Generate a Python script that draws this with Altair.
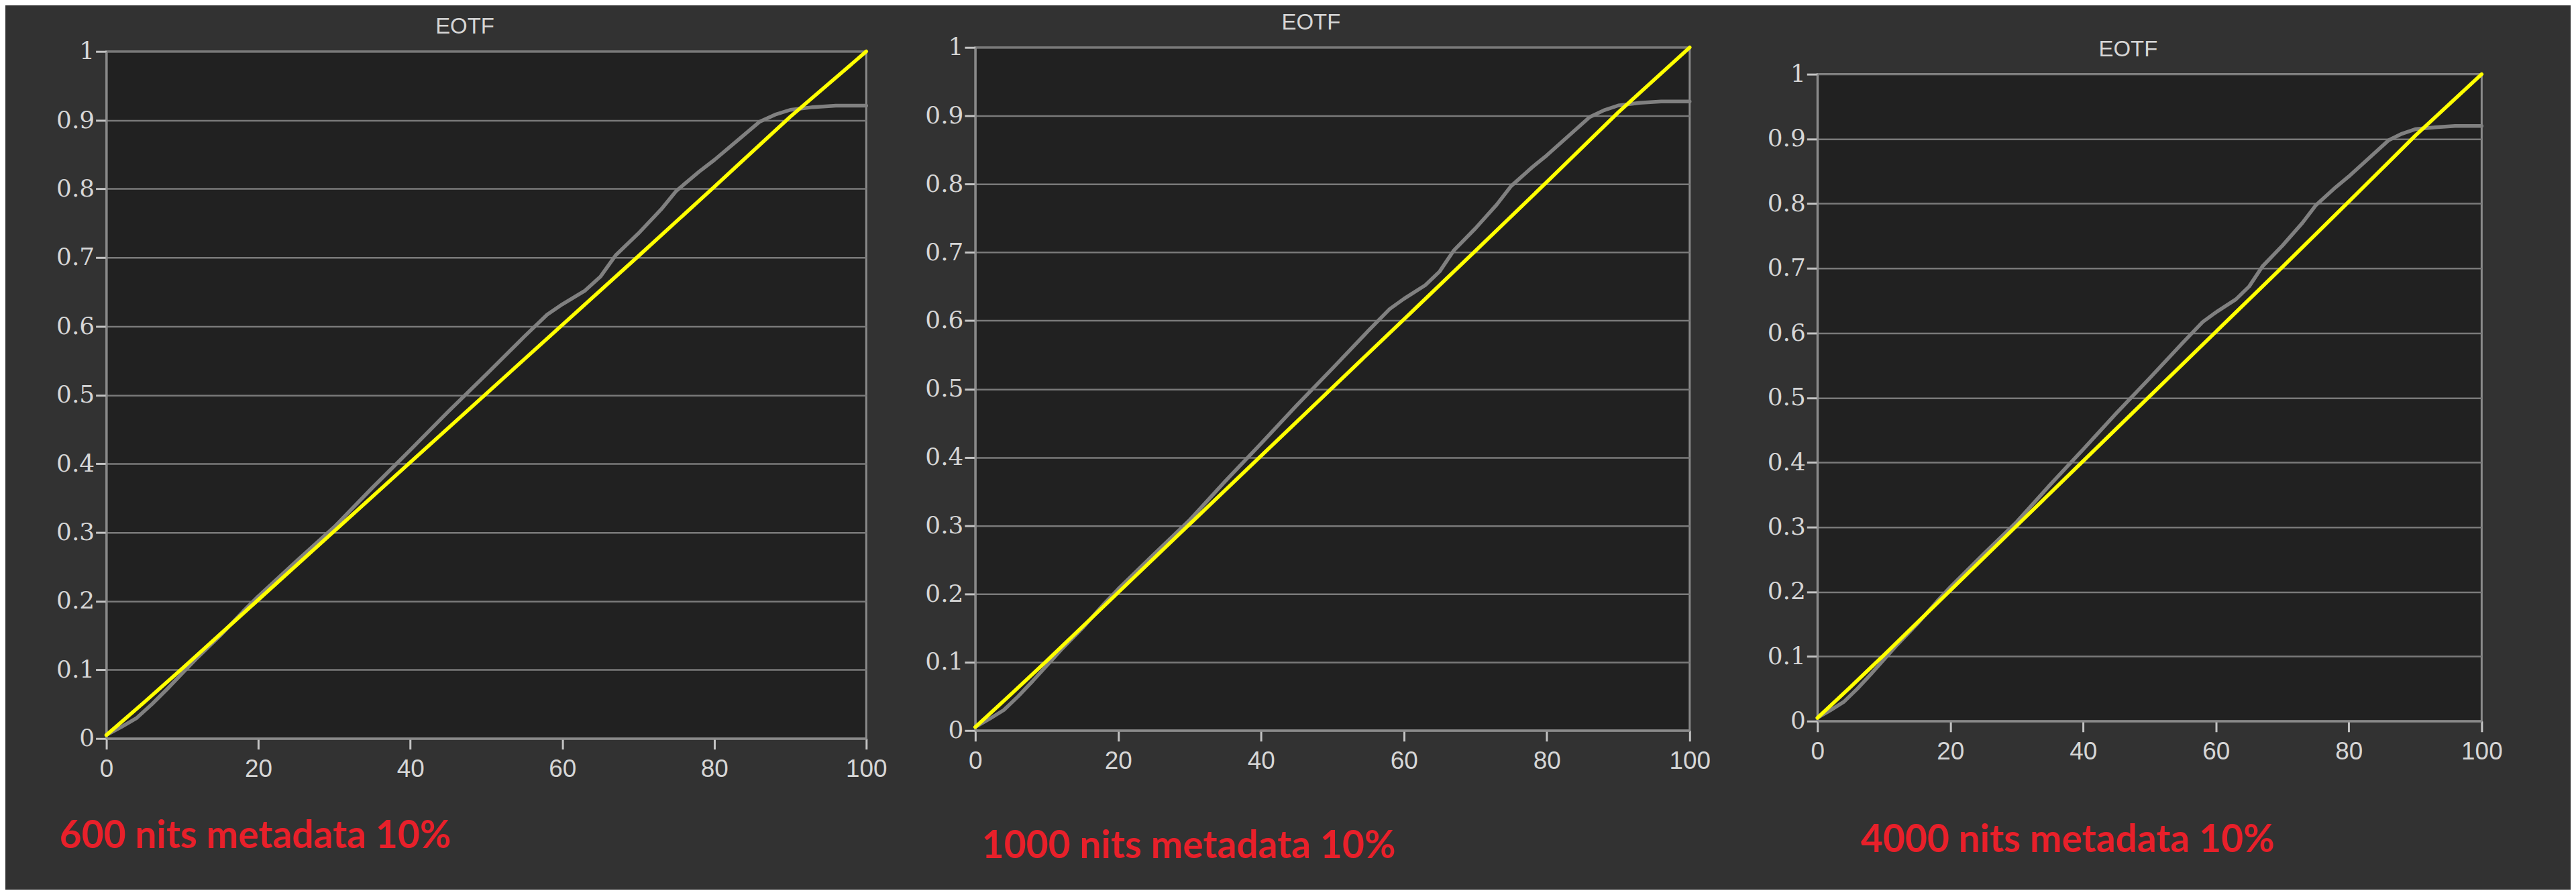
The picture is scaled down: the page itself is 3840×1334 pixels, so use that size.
import altair as alt
import pandas as pd

# ---------------- data ----------------
x_ticks = [0, 20, 40, 60, 80, 100]
y_ticks = [0, 0.1, 0.2, 0.3, 0.4, 0.5, 0.6, 0.7, 0.8, 0.9, 1.0]

panel_title = "EOTF"
captions = ["600 nits metadata 10%", "1000 nits metadata 10%", "4000 nits metadata 10%"]

# target (yellow) EOTF
yellow_x = [0, 5, 10, 20, 30, 40, 50, 60, 70, 80, 90, 100]
yellow_600 = [0.005, 0.053, 0.102, 0.202, 0.302, 0.402, 0.502, 0.602, 0.702, 0.803, 0.905, 1.0]
yellow_1000 = [0.005, 0.053, 0.102, 0.202, 0.302, 0.402, 0.502, 0.602, 0.702, 0.803, 0.905, 1.0]
yellow_4000 = [0.005, 0.053, 0.102, 0.202, 0.302, 0.402, 0.502, 0.602, 0.702, 0.803, 0.905, 1.0]

# measured (gray) EOTF
gray_x = [0, 2, 4, 6, 8, 10, 12, 15, 18, 20, 25, 30, 35, 40, 45, 50, 55, 58, 60, 63, 65,
          67, 70, 73, 75, 78, 80, 83, 86, 88, 90, 93, 96, 100]
gray_600 = [0.005, 0.017, 0.03, 0.05, 0.072, 0.095, 0.118, 0.15, 0.185, 0.207, 0.258, 0.308,
            0.365, 0.42, 0.476, 0.53, 0.585, 0.617, 0.632, 0.652, 0.672, 0.703, 0.735, 0.77,
            0.797, 0.825, 0.842, 0.87, 0.898, 0.908, 0.915, 0.919, 0.921, 0.921]
gray_1000 = [0.005, 0.017, 0.03, 0.05, 0.072, 0.095, 0.118, 0.15, 0.185, 0.207, 0.258, 0.308,
             0.365, 0.42, 0.476, 0.53, 0.585, 0.617, 0.632, 0.652, 0.672, 0.703, 0.735, 0.77,
             0.797, 0.825, 0.842, 0.87, 0.898, 0.908, 0.915, 0.919, 0.921, 0.921]
gray_4000 = [0.005, 0.017, 0.03, 0.05, 0.072, 0.095, 0.118, 0.15, 0.185, 0.207, 0.258, 0.308,
             0.365, 0.42, 0.476, 0.53, 0.585, 0.617, 0.632, 0.652, 0.672, 0.703, 0.735, 0.77,
             0.797, 0.825, 0.842, 0.87, 0.898, 0.908, 0.915, 0.918, 0.92, 0.92]

# ---------------- styling ----------------
BG = "#323232"
PLOT_BG = "#212121"
FRAME = "#8a8a8a"
GRID = "#7a7a7a"
LABEL = "#d6d6d6"
RED = "#e8202a"


def panel(gray_y, yellow_y, caption, w, h, head_h, cap_dx, cap_dy, min_extent=None):
    df = pd.concat([
        pd.DataFrame({"x": gray_x, "y": gray_y, "s": "measured"}),
        pd.DataFrame({"x": yellow_x, "y": yellow_y, "s": "target"}),
    ], ignore_index=True)

    yaxis_kw = dict(values=y_ticks, format="~g", grid=True, title=None)
    if min_extent is not None:
        yaxis_kw["minExtent"] = min_extent

    lines = alt.Chart(df).mark_line(strokeWidth=5.5, strokeCap="round", strokeJoin="round").encode(
        x=alt.X("x:Q", scale=alt.Scale(domain=[0, 100], nice=False),
                axis=alt.Axis(values=x_ticks, format="d", grid=False, labelFlush=False, title=None)),
        y=alt.Y("y:Q", scale=alt.Scale(domain=[0, 1], nice=False), axis=alt.Axis(**yaxis_kw)),
        color=alt.Color("s:N", scale=alt.Scale(domain=["measured", "target"],
                                               range=["#808080", "#ffff00"]), legend=None),
        order=alt.Order("x:Q"),
    )

    cap = alt.Chart(pd.DataFrame({"t": [caption]})).mark_text(
        align="left", baseline="middle", font="Lato", fontWeight="bold", fontSize=57, color=RED
    ).encode(text="t:N", x=alt.value(cap_dx), y=alt.value(h + cap_dy))

    body = alt.layer(lines, cap).properties(
        width=w, height=h,
        view=alt.ViewBackground(fill=PLOT_BG, stroke=FRAME, strokeWidth=3),
    )

    head = alt.Chart(pd.DataFrame({"t": [panel_title]})).mark_text(
        align="center", baseline="middle", font="Liberation Sans", fontSize=33, color=LABEL
    ).encode(text="t:N", x=alt.value(w / 2 - 32), y=alt.value(head_h - 17)).properties(
        width=w, height=head_h,
        view=alt.ViewBackground(fill="transparent", stroke="transparent"),
    )

    return alt.vconcat(head, body, spacing=0)


p1 = panel(gray_600, yellow_600, captions[0], 1136, 1027, 36, -70, 147)
p2 = panel(gray_1000, yellow_1000, captions[1], 1068, 1021, 30, 10, 174)
p3 = panel(gray_4000, yellow_4000, captions[2], 993, 967, 70, 65, 179, min_extent=103)

chart = alt.hconcat(p1, p2, p3, spacing=53).properties(
    background=BG,
    padding={"left": 74, "top": 8, "right": 100, "bottom": 32},
).configure_view(
    strokeWidth=0
).configure_axis(
    domainColor=FRAME, domainWidth=3, tickColor="#c4c4c4", tickWidth=3, tickSize=16,
    gridColor=GRID, gridWidth=2.5, labelColor=LABEL,
).configure_axisX(
    labelFont="Liberation Sans", labelFontSize=37, labelPadding=12,
).configure_axisY(
    labelFont="DejaVu Serif", labelFontSize=36, labelPadding=2,
)

chart.save("out.html", embed_options={"renderer": "svg", "actions": False})
